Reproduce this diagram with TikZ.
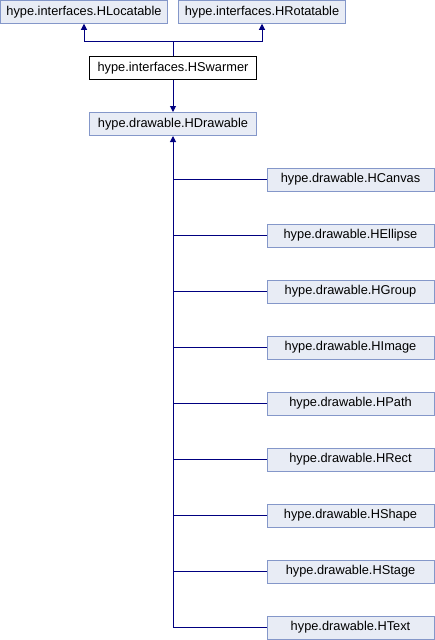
\documentclass[tikz,border=0pt]{standalone}
\usepackage{fontspec}
\setmainfont{Liberation Sans}
\usetikzlibrary{arrows.meta}
\definecolor{boxfill}{HTML}{E8ECF5}
\definecolor{boxdraw}{HTML}{8497C9}
\definecolor{edgecol}{HTML}{000080}
\begin{document}
\begin{tikzpicture}[x=1pt,y=-1pt,
  cls/.style={draw=boxdraw, fill=boxfill, line width=1pt, minimum width=167pt, minimum height=23pt, inner sep=0pt, font=\fontsize{12.8}{15}\selectfont},
  cur/.style={cls, draw=black, fill=white},
  edge/.style={draw=edgecol, line width=1pt},
  tip/.style={-{Triangle[width=6pt,length=6pt]}}
]
\useasboundingbox (0,0) rectangle (435,640);
\node[cls] (loc) at (84,11.75) {hype.interfaces.HLocatable};
\node[cls] (rot) at (262,11.75) {hype.interfaces.HRotatable};
\node[cur] (swarm) at (173,68) {hype.interfaces.HSwarmer};
\node[cls] (draw) at (173,124) {hype.drawable.HDrawable};
\coordinate (j) at (173,41);
\draw[edge] (swarm.north) -- (j);
\draw[edge,tip] (j) -| (loc.south);
\draw[edge,tip] (j) -| (rot.south);
\draw[edge,tip] (swarm.south) -- (draw.north);
\node[cls] (c1) at (350.5,179.5) {hype.drawable.HCanvas};
\node[cls] (c2) at (350.5,235.5) {hype.drawable.HEllipse};
\node[cls] (c3) at (350.5,291.5) {hype.drawable.HGroup};
\node[cls] (c4) at (350.5,347.5) {hype.drawable.HImage};
\node[cls] (c5) at (350.5,403.5) {hype.drawable.HPath};
\node[cls] (c6) at (350.5,459.5) {hype.drawable.HRect};
\node[cls] (c7) at (350.5,515.5) {hype.drawable.HShape};
\node[cls] (c8) at (350.5,571.5) {hype.drawable.HStage};
\node[cls] (c9) at (350.5,627.5) {hype.drawable.HText};
\draw[edge,tip] (c9.west) -| (draw.south);
\foreach \c in {c1,c2,c3,c4,c5,c6,c7,c8}
  \draw[edge] (\c.west) -- (\c.west -| draw.south);
\end{tikzpicture}
\end{document}
